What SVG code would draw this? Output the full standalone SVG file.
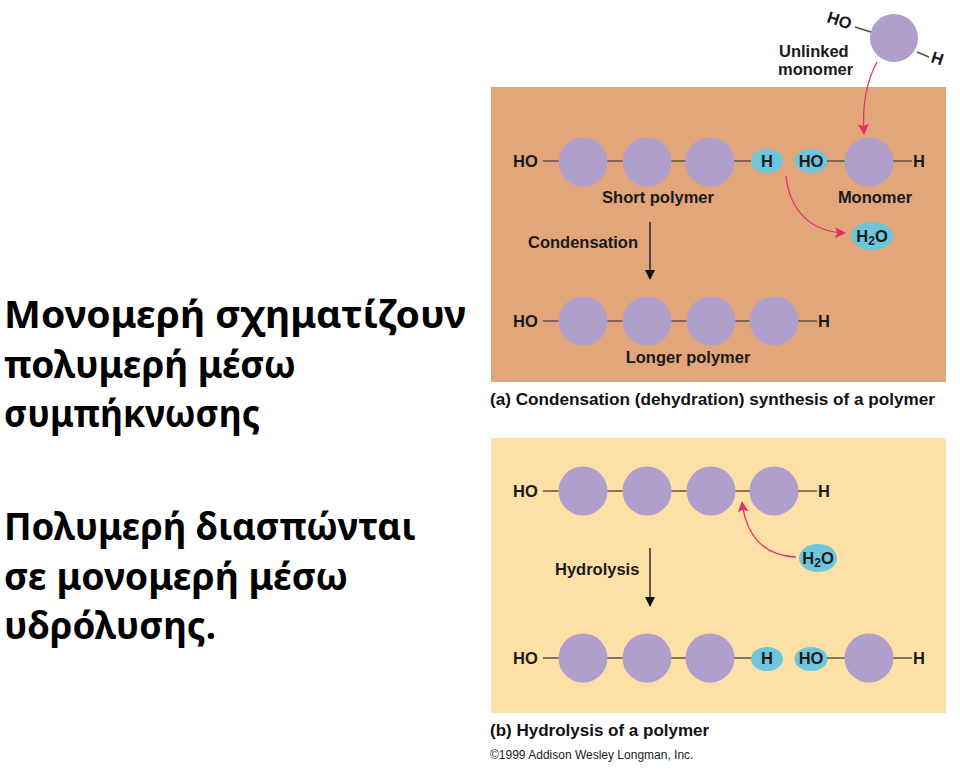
<svg xmlns="http://www.w3.org/2000/svg" width="960" height="771" viewBox="0 0 960 771">
<defs>
<marker id="blk" viewBox="0 0 10 10" refX="9" refY="5" markerWidth="10" markerHeight="10" markerUnits="userSpaceOnUse" orient="auto"><path d="M0,0 L10,5 L0,10 Z" fill="#111"/></marker>
<marker id="pnk" viewBox="0 0 10 10" refX="9" refY="5" markerWidth="11" markerHeight="11" markerUnits="userSpaceOnUse" orient="auto"><path d="M0,0 L10,5 L0,10 L2,5 Z" fill="#E5306A"/></marker>
</defs>
<style>
.big{font-family:"Noto Sans","Open Sans","DejaVu Sans",sans-serif;font-weight:bold;font-size:38px;fill:#000}
.lbl{font-family:"Liberation Sans",Arial,sans-serif;font-weight:bold;font-size:16.5px;fill:#1a1a1a}
.cap{font-family:"Liberation Sans",Arial,sans-serif;font-weight:bold;font-size:17px;fill:#111}
.copy{font-family:"Liberation Sans",Arial,sans-serif;font-size:12px;fill:#222}
.mono{fill:#B09ECC}
.grp{fill:#6DC6DC}
.bond{stroke:#5a4a3a;stroke-width:1.4;fill:none}
.parr{stroke:#E5306A;stroke-width:1.3;fill:none}
.barr{stroke:#111;stroke-width:1.3;fill:none}
</style>
<rect width="960" height="771" fill="#fff"/>

<g id="left-text">
<text class="big" x="4" y="328" textLength="462" lengthAdjust="spacingAndGlyphs">Μονομερή σχηματίζουν</text>
<text class="big" x="4" y="378" textLength="292" lengthAdjust="spacingAndGlyphs">πολυμερή μέσω</text>
<text class="big" x="4" y="427" textLength="256" lengthAdjust="spacingAndGlyphs">συμπήκνωσης</text>
<text class="big" x="4" y="540" textLength="412" lengthAdjust="spacingAndGlyphs">Πολυμερή διασπώνται</text>
<text class="big" x="4" y="590" textLength="344" lengthAdjust="spacingAndGlyphs">σε μονομερή μέσω</text>
<text class="big" x="4" y="639" textLength="212" lengthAdjust="spacingAndGlyphs">υδρόλυσης.</text>
</g>

<g id="panel-a">
<rect x="491" y="87" width="455" height="295" fill="#E2A67A"/>
</g>
<g id="panel-b">
<rect x="491" y="438" width="455" height="275" fill="#FCE0A6"/>
</g>

<g id="unlinked-monomer">
<line class="bond" x1="855" y1="27" x2="871" y2="32"/>
<line class="bond" x1="917" y1="52" x2="929" y2="57"/>
<circle class="mono" cx="894" cy="38" r="24"/>
<text class="lbl" x="0" y="0" transform="translate(826,22) rotate(18)">HO</text>
<text class="lbl" x="0" y="0" transform="translate(930,62) rotate(18)">H</text>
<text class="lbl" x="779" y="57">Unlinked</text>
<text class="lbl" x="778" y="75">monomer</text>
</g>

<g id="short-polymer">
<text class="lbl" x="513" y="167">HO</text>
<line class="bond" x1="543" y1="161" x2="560" y2="161"/>
<line class="bond" x1="606" y1="161" x2="624" y2="161"/>
<line class="bond" x1="670" y1="161" x2="687" y2="161"/>
<line class="bond" x1="733" y1="161" x2="752" y2="161"/>
<circle class="mono" cx="583" cy="162" r="24.5"/>
<circle class="mono" cx="647" cy="162" r="24.5"/>
<circle class="mono" cx="710" cy="162" r="24.5"/>
<ellipse class="grp" cx="767" cy="161" rx="16" ry="12"/>
<text class="lbl" x="767" y="167" text-anchor="middle">H</text>
<text class="lbl" x="658" y="203" text-anchor="middle">Short polymer</text>
</g>

<g id="monomer">
<ellipse class="grp" cx="811" cy="161" rx="16.5" ry="12"/>
<text class="lbl" x="811" y="167" text-anchor="middle">HO</text>
<line class="bond" x1="827" y1="161" x2="846" y2="161"/>
<line class="bond" x1="892" y1="161" x2="912" y2="161"/>
<circle class="mono" cx="869" cy="162" r="24.5"/>
<text class="lbl" x="913" y="167">H</text>
<text class="lbl" x="875" y="203" text-anchor="middle">Monomer</text>
</g>

<g id="water-a">
<ellipse class="grp" cx="872" cy="236" rx="21" ry="14"/>
<text class="lbl" x="872" y="242" text-anchor="middle">H<tspan font-size="12" dy="3">2</tspan><tspan dy="-3">O</tspan></text>
</g>

<g id="condensation-label">
<text class="lbl" x="528" y="248">Condensation</text>
</g>

<g id="longer-polymer">
<text class="lbl" x="513" y="327">HO</text>
<line class="bond" x1="543" y1="321" x2="560" y2="321"/>
<line class="bond" x1="606" y1="321" x2="624" y2="321"/>
<line class="bond" x1="670" y1="321" x2="688" y2="321"/>
<line class="bond" x1="734" y1="321" x2="751" y2="321"/>
<line class="bond" x1="797" y1="321" x2="817" y2="321"/>
<circle class="mono" cx="583" cy="321" r="24.5"/>
<circle class="mono" cx="647" cy="321" r="24.5"/>
<circle class="mono" cx="711" cy="321" r="24.5"/>
<circle class="mono" cx="774" cy="321" r="24.5"/>
<text class="lbl" x="818" y="327">H</text>
<text class="lbl" x="688" y="363" text-anchor="middle">Longer polymer</text>
</g>

<g id="caption-a">
<text class="cap" x="490" y="405" textLength="445" lengthAdjust="spacingAndGlyphs">(a) Condensation (dehydration) synthesis of a polymer</text>
</g>

<g id="polymer-b">
<text class="lbl" x="513" y="497">HO</text>
<line class="bond" x1="543" y1="491" x2="560" y2="491"/>
<line class="bond" x1="606" y1="491" x2="624" y2="491"/>
<line class="bond" x1="670" y1="491" x2="688" y2="491"/>
<line class="bond" x1="734" y1="491" x2="751" y2="491"/>
<line class="bond" x1="797" y1="491" x2="817" y2="491"/>
<circle class="mono" cx="583" cy="491" r="24.5"/>
<circle class="mono" cx="647" cy="491" r="24.5"/>
<circle class="mono" cx="711" cy="491" r="24.5"/>
<circle class="mono" cx="774" cy="491" r="24.5"/>
<text class="lbl" x="818" y="497">H</text>
</g>

<g id="water-b">
<ellipse class="grp" cx="818" cy="558" rx="19" ry="14"/>
<text class="lbl" x="818" y="564" text-anchor="middle">H<tspan font-size="12" dy="3">2</tspan><tspan dy="-3">O</tspan></text>
</g>

<g id="hydrolysis-label">
<text class="lbl" x="555" y="575">Hydrolysis</text>
</g>

<g id="products-b">
<text class="lbl" x="513" y="664">HO</text>
<line class="bond" x1="543" y1="658" x2="560" y2="658"/>
<line class="bond" x1="606" y1="658" x2="624" y2="658"/>
<line class="bond" x1="670" y1="658" x2="687" y2="658"/>
<line class="bond" x1="733" y1="658" x2="752" y2="658"/>
<circle class="mono" cx="583" cy="658" r="24.5"/>
<circle class="mono" cx="647" cy="658" r="24.5"/>
<circle class="mono" cx="710" cy="658" r="24.5"/>
<ellipse class="grp" cx="767" cy="659" rx="16" ry="12"/>
<text class="lbl" x="767" y="664" text-anchor="middle">H</text>
<ellipse class="grp" cx="811" cy="659" rx="16.5" ry="12"/>
<text class="lbl" x="811" y="664" text-anchor="middle">HO</text>
<line class="bond" x1="827" y1="658" x2="846" y2="658"/>
<line class="bond" x1="892" y1="658" x2="912" y2="658"/>
<circle class="mono" cx="869" cy="658" r="24.5"/>
<text class="lbl" x="913" y="664">H</text>
</g>

<g id="caption-b">
<text class="cap" x="490" y="736">(b) Hydrolysis of a polymer</text>
<text class="copy" x="490" y="759">©1999 Addison Wesley Longman, Inc.</text>
</g>

<g id="connectors">
<path class="parr" d="M877,62 C866,82 862,105 864,134" marker-end="url(#pnk)"/>
<path class="parr" d="M786,176 C790,212 812,232 845,233" marker-end="url(#pnk)"/>
<path class="barr" d="M650,222 L650,279" marker-end="url(#blk)"/>
<path class="parr" d="M796,557 C764,556 746,536 742,502" marker-end="url(#pnk)"/>
<path class="barr" d="M650,548 L650,606" marker-end="url(#blk)"/>
</g>
</svg>
